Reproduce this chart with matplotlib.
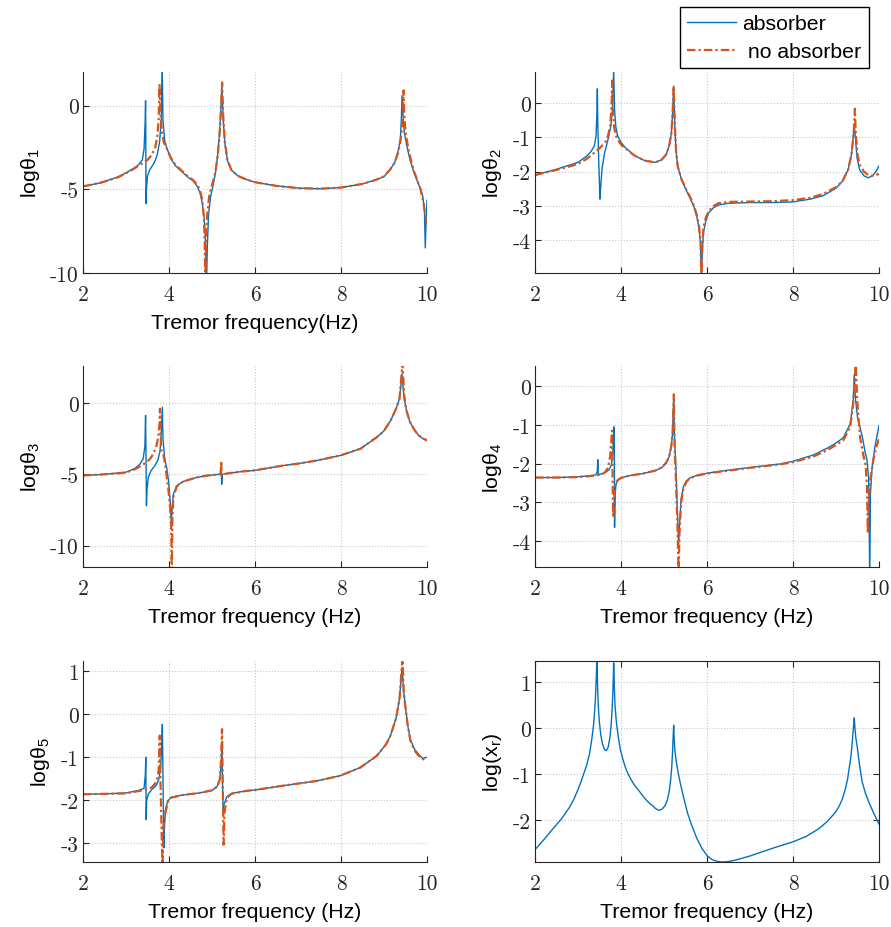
import matplotlib
matplotlib.use('Agg')
import matplotlib.pyplot as plt
import numpy as np

plt.rcParams['font.family'] = ['Liberation Sans', 'DejaVu Sans']
plt.rcParams['axes.unicode_minus'] = False

BLUE = '#0072BD'
ORANGE = '#D95319'
AX = '#262626'

# ---- theta_1 ----
f1_abs = [2.0, 2.4, 2.8, 3.0, 3.2, 3.3, 3.38, 3.42, 3.445, 3.455, 3.46, 3.465, 3.475, 3.50, 3.55, 3.65,
          3.72, 3.78, 3.82, 3.84, 3.86, 3.90, 3.95, 4.05, 4.15, 4.30, 4.45, 4.56, 4.65, 4.72, 4.78, 4.82,
          4.85, 4.87, 4.89, 4.92, 4.97, 5.03, 5.08, 5.13, 5.17, 5.20, 5.23, 5.26, 5.30, 5.36, 5.45, 5.6,
          5.8, 6.0, 6.5, 7.0, 7.5, 8.0, 8.5, 8.8, 9.0, 9.15, 9.25, 9.33, 9.38, 9.40, 9.42, 9.44, 9.47,
          9.53, 9.6, 9.69, 9.78, 9.85, 9.90, 9.94, 9.96, 9.98, 10.0]
t1_abs = [-4.83, -4.62, -4.28, -4.02, -3.72, -3.52, -3.25, -2.6, -1.0, 0.28, -1.5, -5.85, -5.0, -4.2, -3.85, -3.45,
          -3.0, -2.2, -0.8, 2.5, -0.9, -2.1, -2.55, -3.2, -3.6, -3.95, -4.3, -4.5, -4.8, -5.2, -5.9, -6.8,
          -8.2, -11, -8.5, -6.5, -5.4, -4.7, -4.05, -3.0, -1.8, -0.5, 1.15, -0.8, -2.3, -3.3, -3.85, -4.2,
          -4.42, -4.58, -4.8, -4.93, -4.97, -4.9, -4.68, -4.45, -4.25, -3.8, -3.4, -2.7, -2.0, -1.0, 0.6, -0.5, -1.6,
          -2.4, -3.2, -3.95, -4.55, -5.0, -5.4, -6.2, -8.5, -6.8, -5.66]
f1_no = [2.0, 2.4, 2.8, 3.0, 3.2, 3.35, 3.5, 3.6, 3.68, 3.73, 3.76, 3.78, 3.80, 3.83, 3.88, 3.95, 4.05,
         4.15, 4.30, 4.45, 4.56, 4.65, 4.72, 4.77, 4.81, 4.83, 4.845, 4.86, 4.89, 4.93, 4.98, 5.04, 5.09,
         5.14, 5.18, 5.21, 5.235, 5.26, 5.30, 5.36, 5.45, 5.6, 5.8, 6.0, 6.5, 7.0, 7.5, 8.0, 8.5, 8.8,
         9.0, 9.15, 9.25, 9.33, 9.39, 9.43, 9.455, 9.47, 9.50, 9.56, 9.63, 9.70, 9.78, 9.85, 9.92, 9.97, 10.0]
t1_no = [-4.83, -4.62, -4.3, -4.05, -3.75, -3.5, -3.25, -2.95, -2.5, -1.8, -0.8, 1.3, -0.3, -1.5, -2.2, -2.6, -3.15,
         -3.55, -3.9, -4.25, -4.45, -4.7, -5.05, -5.6, -6.6, -8.0, -11, -8.0, -6.5, -5.5, -4.9, -4.4, -3.8,
         -2.8, -1.6, -0.2, 1.38, -0.6, -2.2, -3.25, -3.85, -4.2, -4.42, -4.58, -4.8, -4.93, -4.97, -4.9, -4.68, -4.45,
         -4.22, -3.8, -3.4, -2.8, -2.0, -1.0, 0.9, -0.5, -1.6, -2.5, -3.3, -3.95, -4.5, -5.0, -5.8, -6.8, -7.1]

# ---- theta_2 ----
f2_abs = [2.0, 2.5, 3.0, 3.2, 3.3, 3.38, 3.42, 3.44, 3.45, 3.46, 3.48, 3.51, 3.53, 3.56, 3.62, 3.70, 3.76,
          3.80, 3.83, 3.85, 3.88, 3.92, 4.0, 4.1, 4.3, 4.55, 4.8, 4.95, 5.05, 5.12, 5.17, 5.20, 5.225, 5.25,
          5.28, 5.32, 5.4, 5.5, 5.6, 5.69, 5.76, 5.81, 5.85, 5.87, 5.89, 5.92, 5.97, 6.04, 6.15, 6.27, 6.5,
          7.0, 7.5, 8.0, 8.4, 8.7, 9.0, 9.15, 9.28, 9.36, 9.40, 9.425, 9.45, 9.49, 9.55, 9.65, 9.75, 9.85,
          9.93, 10.0]
t2_abs = [-2.10, -1.93, -1.73, -1.55, -1.42, -1.25, -0.95, -0.3, 0.41, -0.6, -1.6, -2.8, -2.4, -1.9, -1.45, -1.05, -0.7,
          -0.2, 0.95, -0.2, -0.7, -0.95, -1.15, -1.3, -1.52, -1.68, -1.73, -1.65, -1.5, -1.25, -0.9, -0.3, 0.49, -0.6,
          -1.4, -1.85, -2.2, -2.5, -2.75, -3.0, -3.3, -3.6, -4.1, -5.2, -4.3, -3.75, -3.45, -3.2, -3.05, -2.97, -2.92,
          -2.9, -2.9, -2.88, -2.8, -2.7, -2.48, -2.28, -1.95, -1.5, -1.0, -0.61, -1.0, -1.6, -1.95, -2.12, -2.18, -2.12,
          -2.0, -1.83]
f2_no = [2.0, 2.5, 3.0, 3.2, 3.36, 3.5, 3.63, 3.70, 3.75, 3.78, 3.795, 3.81, 3.84, 3.88, 3.95, 4.02, 4.1,
         4.3, 4.55, 4.8, 4.95, 5.05, 5.12, 5.17, 5.20, 5.225, 5.25, 5.28, 5.32, 5.4, 5.5, 5.6, 5.69, 5.76,
         5.81, 5.85, 5.87, 5.89, 5.92, 5.97, 6.04, 6.15, 6.27, 6.5, 7.0, 7.5, 8.0, 8.4, 8.7, 9.0, 9.15, 9.28,
         9.36, 9.41, 9.44, 9.46, 9.50, 9.55, 9.65, 9.75, 9.85, 10.0]
t2_no = [-2.10, -1.95, -1.78, -1.63, -1.47, -1.32, -1.15, -0.95, -0.65, -0.1, 0.65, -0.2, -0.7, -0.95, -1.12, -1.24, -1.32,
         -1.52, -1.68, -1.73, -1.65, -1.5, -1.25, -0.9, -0.3, 0.49, -0.6, -1.4, -1.85, -2.2, -2.48, -2.72, -2.97, -3.25,
         -3.55, -4.0, -5.2, -4.2, -3.6, -3.35, -3.15, -3.0, -2.92, -2.88, -2.87, -2.86, -2.83, -2.76, -2.65, -2.45, -2.28, -1.95,
         -1.5, -0.9, -0.17, -0.9, -1.5, -1.8, -2.0, -2.1, -2.12, -2.07]

# ---- theta_3 ----
f3_abs = [2.0, 2.5, 3.0, 3.2, 3.32, 3.40, 3.44, 3.455, 3.465, 3.475, 3.49, 3.52, 3.58, 3.67, 3.74, 3.79,
          3.82, 3.845, 3.86, 3.90, 3.95, 3.99, 4.03, 4.055, 4.075, 4.10, 4.18, 4.33, 4.64, 4.9, 5.1, 5.2,
          5.215, 5.225, 5.24, 5.4, 5.7, 6.0, 6.66, 7.0, 7.44, 7.98, 8.45, 8.83, 9.0, 9.15, 9.28, 9.36, 9.42,
          9.46, 9.52, 9.6, 9.7, 9.8, 9.9, 10.0]
t3_abs = [-5.08, -5.0, -4.85, -4.6, -4.3, -3.9, -3.0, -0.87, -3.5, -7.2, -6.0, -5.2, -4.75, -4.4, -4.0, -3.4,
          -2.0, -0.3, -2.5, -3.9, -4.6, -5.5, -7.0, -8.5, -7.3, -6.4, -5.8, -5.5, -5.22, -5.08, -5.02, -4.98,
          -4.6, -5.7, -5.0, -4.92, -4.8, -4.72, -4.38, -4.25, -4.03, -3.68, -3.21, -2.4, -1.95, -1.25, -0.4, 0.3, 2.06,
          0.5, -0.5, -1.3, -1.85, -2.25, -2.48, -2.62]
f3_no = [2.0, 2.5, 3.0, 3.2, 3.32, 3.45, 3.55, 3.63, 3.70, 3.75, 3.78, 3.79, 3.80, 3.82, 3.87, 3.91, 3.98,
         4.02, 4.05, 4.065, 4.08, 4.10, 4.18, 4.33, 4.64, 4.9, 5.1, 5.2, 5.215, 5.225, 5.24, 5.4, 5.7, 6.0,
         6.66, 7.0, 7.44, 7.98, 8.45, 8.83, 9.0, 9.15, 9.28, 9.36, 9.43, 9.47, 9.52, 9.6, 9.7, 9.8, 9.9, 10.0]
t3_no = [-5.08, -5.0, -4.88, -4.65, -4.45, -4.2, -3.95, -3.6, -3.1, -2.4, -1.4, -0.4, -1.5, -3.3, -3.6, -4.28, -5.9,
         -7.1, -8.5, -12, -8.0, -6.6, -5.85, -5.5, -5.22, -5.08, -5.02, -4.98, -4.05, -5.1, -5.0, -4.92, -4.8, -4.72,
         -4.38, -4.25, -4.03, -3.68, -3.21, -2.4, -1.95, -1.25, -0.4, 0.3, 2.8, 0.5, -0.5, -1.3, -1.85, -2.25, -2.48, -2.62]

# ---- theta_4 ----
f4_abs = [2.0, 2.5, 3.0, 3.3, 3.42, 3.45, 3.46, 3.47, 3.55, 3.65, 3.72, 3.78, 3.81, 3.835, 3.845, 3.85,
          3.86, 3.88, 3.93, 4.0, 4.2, 4.5, 4.8, 4.95, 5.05, 5.12, 5.17, 5.20, 5.225, 5.24, 5.28, 5.31, 5.34,
          5.36, 5.40, 5.45, 5.52, 5.6, 5.8, 6.1, 6.5, 7.0, 7.7, 8.0, 8.47, 8.8, 9.0, 9.17, 9.33, 9.40, 9.425,
          9.45, 9.5, 9.56, 9.62, 9.67, 9.72, 9.76, 9.785, 9.80, 9.84, 9.9, 9.95, 10.0]
t4_abs = [-2.36, -2.36, -2.34, -2.31, -2.29, -2.2, -1.9, -2.28, -2.27, -2.22, -2.16, -2.02, -1.7, -1.05, -1.5, -3.65,
          -2.9, -2.55, -2.42, -2.37, -2.31, -2.26, -2.18, -2.1, -1.98, -1.82, -1.55, -1.2, -0.28, -1.2, -2.2, -3.2, -4.1,
          -3.6, -2.9, -2.6, -2.45, -2.37, -2.29, -2.23, -2.17, -2.1, -2.01, -1.94, -1.78, -1.6, -1.47, -1.33, -0.98, -0.38, 0.3,
          -0.3, -0.8, -1.07, -1.35, -1.67, -1.9, -2.4, -5.0, -2.8, -2.1, -1.6, -1.3, -1.02]
f4_no = [2.0, 2.5, 3.0, 3.3, 3.42, 3.55, 3.63, 3.70, 3.75, 3.775, 3.79, 3.80, 3.81, 3.82, 3.84, 3.86, 3.90,
         4.0, 4.2, 4.5, 4.8, 4.95, 5.05, 5.12, 5.17, 5.20, 5.23, 5.245, 5.28, 5.31, 5.34, 5.36, 5.40, 5.45,
         5.52, 5.6, 5.8, 6.1, 6.5, 7.0, 7.7, 8.0, 8.47, 8.8, 9.0, 9.17, 9.33, 9.40, 9.46, 9.49, 9.53, 9.56,
         9.63, 9.69, 9.72, 9.74, 9.76, 9.80, 9.87, 9.93, 10.0]
t4_no = [-2.36, -2.36, -2.35, -2.32, -2.31, -2.28, -2.22, -2.1, -1.8, -1.4, -1.15, -1.6, -3.0, -3.39, -3.0, -2.6, -2.45,
         -2.37, -2.31, -2.26, -2.18, -2.1, -1.98, -1.82, -1.55, -1.2, -0.21, -1.5, -2.5, -3.5, -4.8, -3.8, -3.0, -2.65,
         -2.47, -2.38, -2.3, -2.24, -2.18, -2.11, -2.02, -1.96, -1.82, -1.65, -1.52, -1.4, -1.05, -0.45, 0.6, -0.3, -0.9, -1.33,
         -1.75, -2.05, -2.6, -3.8, -3.0, -2.4, -1.9, -1.6, -1.36]

# ---- theta_5 ----
f5_abs = [2.0, 2.5, 3.0, 3.3, 3.42, 3.45, 3.46, 3.465, 3.47, 3.48, 3.52, 3.6, 3.7, 3.76, 3.80, 3.83, 3.845,
          3.86, 3.88, 3.895, 3.92, 3.97, 4.05, 4.3, 4.7, 5.0, 5.12, 5.18, 5.21, 5.23, 5.245, 5.26, 5.28, 5.34,
          5.45, 5.8, 6.0, 6.66, 7.44, 7.98, 8.45, 8.83, 9.05, 9.15, 9.28, 9.36, 9.42, 9.46, 9.5, 9.55, 9.61,
          9.7, 9.8, 9.9, 10.0]
t5_abs = [-1.86, -1.85, -1.83, -1.77, -1.72, -1.4, -1.0, -1.8, -2.45, -2.0, -1.85, -1.75, -1.66, -1.52, -1.3, -0.8, -0.24,
          -1.5, -3.1, -2.6, -2.2, -2.02, -1.93, -1.88, -1.83, -1.77, -1.68, -1.52, -1.2, -0.73, -1.6, -2.25, -2.1, -1.92,
          -1.84, -1.78, -1.76, -1.66, -1.55, -1.43, -1.24, -0.97, -0.7, -0.5, -0.1, 0.35, 1.08, 0.5, 0.15, -0.25, -0.58,
          -0.8, -0.93, -1.03, -1.0]
f5_no = [2.0, 2.5, 3.0, 3.32, 3.51, 3.6, 3.67, 3.73, 3.76, 3.785, 3.80, 3.83, 3.85, 3.87, 3.90, 3.98, 4.05,
         4.3, 4.7, 5.0, 5.12, 5.18, 5.21, 5.233, 5.25, 5.27, 5.29, 5.34, 5.45, 5.8, 6.0, 6.66, 7.44, 7.98,
         8.45, 8.83, 9.05, 9.15, 9.28, 9.36, 9.43, 9.46, 9.5, 9.55, 9.61, 9.7, 9.8, 9.9, 10.0]
t5_no = [-1.86, -1.85, -1.84, -1.78, -1.74, -1.7, -1.62, -1.48, -1.3, -0.5, -1.5, -2.8, -3.5, -2.6, -2.36, -2.01, -1.94,
         -1.88, -1.83, -1.77, -1.68, -1.52, -1.1, -0.35, -1.6, -3.03, -2.3, -1.95, -1.85, -1.78, -1.76, -1.66, -1.55, -1.43,
         -1.24, -0.97, -0.7, -0.5, -0.1, 0.35, 1.3, 0.5, 0.15, -0.25, -0.6, -0.83, -0.96, -1.04, -1.08]

# ---- x_r ----
fr = [2.0, 2.1, 2.23, 2.4, 2.62, 2.8, 2.9, 3.01, 3.1, 3.2, 3.27, 3.32, 3.36, 3.39, 3.41, 3.43, 3.44,
      3.46, 3.48, 3.50, 3.53, 3.57, 3.62, 3.66, 3.70, 3.74, 3.77, 3.79, 3.81, 3.83, 3.845, 3.86, 3.89,
      3.93, 3.98, 4.05, 4.12, 4.2, 4.3, 4.41, 4.55, 4.65, 4.72, 4.8, 4.87, 4.93, 4.98, 5.03, 5.08, 5.12,
      5.15, 5.18, 5.20, 5.215, 5.225, 5.235, 5.25, 5.28, 5.32, 5.38, 5.45, 5.55, 5.65, 5.76, 5.88, 6.0,
      6.12, 6.25, 6.35, 6.5, 6.66, 7.0, 7.28, 7.6, 7.98, 8.3, 8.6, 8.8, 8.99, 9.08, 9.15, 9.22, 9.27,
      9.31, 9.34, 9.37, 9.395, 9.41, 9.425, 9.44, 9.46, 9.5, 9.53, 9.56, 9.61, 9.68, 9.77, 9.88, 10.0]
xr = [-2.63, -2.53, -2.39, -2.2, -1.96, -1.72, -1.55, -1.31, -1.08, -0.81, -0.55, -0.25, 0.05, 0.4, 0.75, 1.2, 1.6,
      0.75, 0.35, 0.1, -0.15, -0.35, -0.47, -0.49, -0.42, -0.22, 0.05, 0.35, 0.75, 1.41, 0.9, 0.5, 0.15,
      -0.15, -0.45, -0.7, -0.9, -1.06, -1.22, -1.35, -1.52, -1.62, -1.67, -1.74, -1.78, -1.77, -1.73, -1.67, -1.55, -1.38,
      -1.17, -0.85, -0.5, -0.15, 0.06, -0.2, -0.45, -0.7, -0.92, -1.2, -1.48, -1.85, -2.12, -2.38, -2.6, -2.76,
      -2.85, -2.89, -2.9, -2.89, -2.86, -2.77, -2.68, -2.58, -2.47, -2.35, -2.18, -2.02, -1.82, -1.68, -1.53, -1.31, -1.1,
      -0.85, -0.66, -0.4, -0.1, 0.05, 0.22, 0.0, -0.2, -0.45, -0.68, -0.88, -1.17, -1.4, -1.62, -1.85, -2.08]

panels = [
    (f1_abs, t1_abs, f1_no, t1_no, r'log$\mathregular{θ_1}$', (-10, 2), [-10, -5, 0], 'Tremor frequency(Hz)'),
    (f2_abs, t2_abs, f2_no, t2_no, r'log$\mathregular{θ_2}$', (-4.95, 0.9), [-4, -3, -2, -1, 0], None),
    (f3_abs, t3_abs, f3_no, t3_no, r'log$\mathregular{θ_3}$', (-11.5, 2.6), [-10, -5, 0], 'Tremor frequency (Hz)'),
    (f4_abs, t4_abs, f4_no, t4_no, r'log$\mathregular{θ_4}$', (-4.67, 0.52), [-4, -3, -2, -1, 0], 'Tremor frequency (Hz)'),
    (f5_abs, t5_abs, f5_no, t5_no, r'log$\mathregular{θ_5}$', (-3.43, 1.23), [-3, -2, -1, 0, 1], 'Tremor frequency (Hz)'),
    (fr, xr, None, None, r'log$\mathregular{(x_r)}$', (-2.9, 1.45), [-2, -1, 0, 1], 'Tremor frequency (Hz)'),
]

W, H = 891, 928
fig = plt.figure(figsize=(W / 100, H / 100), dpi=100)
lefts = [83, 535]
tops = [73, 367, 662]
aw, ah = 344, 201

handles = None
for i, (fa, ya, fn, yn, ylab, ylim, yt, xlab) in enumerate(panels):
    r, c = divmod(i, 2)
    ax = fig.add_axes([lefts[c] / W, 1 - (tops[r] + ah) / H, aw / W, ah / H])
    la, = ax.plot(fa, ya, color=BLUE, lw=1.0)
    if fn is not None:
        lb, = ax.plot(fn, yn, color=ORANGE, lw=1.6, dashes=[3.8, 1.4, 1.0, 1.4])
        if handles is None:
            handles = [la, lb]
    ax.set_xlim(2, 10)
    ax.set_ylim(*ylim)
    ax.set_xticks([2, 4, 6, 8, 10])
    ax.set_yticks(yt)
    ax.grid(True, ls=':', color='#c8c8c8', lw=0.8)
    box = (i == 5)
    for s in ['top', 'right']:
        ax.spines[s].set_visible(box)
    for s in ax.spines.values():
        s.set_color(AX)
        s.set_linewidth(0.8)
    ax.tick_params(direction='in', length=4, width=0.8, color=AX, labelcolor=AX,
                   labelsize=15.5, top=box, right=box)
    ax.tick_params(axis='x', pad=8)
    ax.tick_params(axis='y', pad=3)
    for t in ax.get_xticklabels() + ax.get_yticklabels():
        t.set_fontfamily('cmr10')
    ax.set_ylabel(ylab, fontsize=15.3, color='black', labelpad=6)
    if xlab:
        ax.set_xlabel(xlab, fontsize=15.3, color='black', labelpad=7)

fig.legend(handles, ['absorber', ' no absorber'], loc='upper right',
           bbox_to_anchor=(869 / W, 1 - 8 / H), fontsize=15.3, fancybox=False,
           edgecolor='black', framealpha=1, handlelength=2.3, labelspacing=0.4,
           borderpad=0.35, handletextpad=0.3, borderaxespad=0)

fig.savefig('out.png', dpi=100)
